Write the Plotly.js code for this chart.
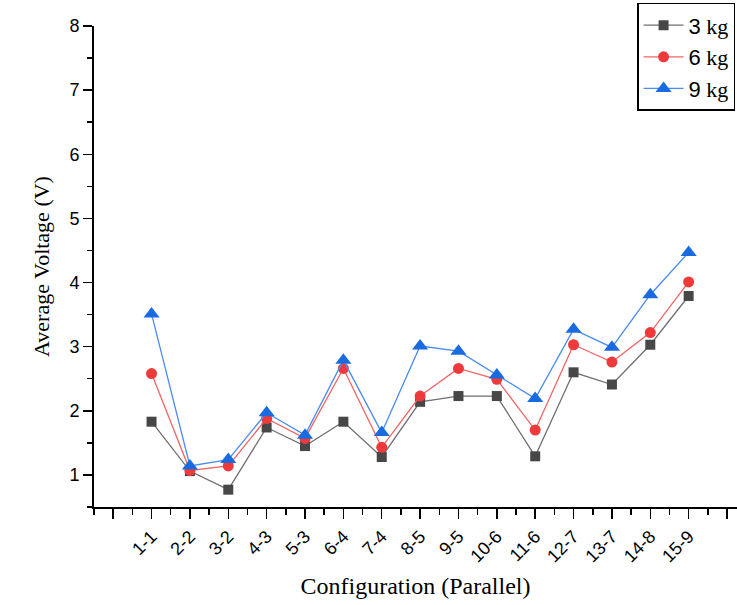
<!DOCTYPE html>
<html>
<head>
<meta charset="utf-8">
<script src="https://cdn.plot.ly/plotly-3.0.1.min.js"></script>
<style>html,body{margin:0;padding:0;background:#fff;}#chart{width:737px;height:605px;}</style>
</head>
<body>
<div id="chart"></div>
<script>
// Data
const configs = ["1-1","2-2","3-2","4-3","5-3","6-4","7-4","8-5","9-5","10-6","11-6","12-7","13-7","14-8","15-9"];
const positions = [1,2,3,4,5,6,7,8,9,10,11,12,13,14,15];
const v3kg = [1.83,1.06,0.77,1.74,1.45,1.83,1.28,2.14,2.23,2.23,1.29,2.60,2.41,3.03,3.79];
const v6kg = [2.58,1.07,1.14,1.88,1.57,2.66,1.43,2.23,2.66,2.49,1.70,3.03,2.76,3.22,4.01];
const v9kg = [3.51,1.14,1.24,1.97,1.62,2.79,1.66,3.01,2.93,2.56,2.19,3.27,2.99,3.81,4.47];
const seriesNames = ['<span style="font-family:Liberation Sans">3</span> kg',
                     '<span style="font-family:Liberation Sans">6</span> kg',
                     '<span style="font-family:Liberation Sans">9</span> kg'];
const yTickVals = [1,2,3,4,5,6,7,8];

const traces = [
  {x: positions, y: v3kg, name: seriesNames[0], mode: 'lines+markers', type: 'scatter',
   line: {color: '#6f6f6f', width: 1.3},
   marker: {symbol: 'square', size: 10, color: '#474747'}},
  {x: positions, y: v6kg, name: seriesNames[1], mode: 'lines+markers', type: 'scatter',
   line: {color: '#f26464', width: 1.3},
   marker: {symbol: 'circle', size: 11, color: '#ee3a3a'}},
  {x: positions, y: v9kg, name: seriesNames[2], mode: 'lines+markers', type: 'scatter',
   line: {color: '#4a8cf0', width: 1.3},
   marker: {symbol: 'triangle-up', size: 14, color: '#1a6be0'}}
];

const xTickVals = [0].concat(positions, [16]);
const xTickText = [''].concat(configs, ['']);

const layout = {
  width: 737, height: 605,
  margin: {l: 94, r: 0, t: 26, b: 98},
  paper_bgcolor: '#ffffff', plot_bgcolor: '#ffffff',
  showlegend: true,
  legend: {
    x: 0.997, xanchor: 'right', y: 1.048, yanchor: 'top',
    bgcolor: '#ffffff', bordercolor: '#000000', borderwidth: 1.5,
    font: {family: 'Liberation Serif', size: 22, color: '#000'},
    traceorder: 'normal', itemwidth: 40,
    tracegroupgap: 0
  },
  xaxis: {
    range: [-0.5, 16.26],
    tickmode: 'array', tickvals: xTickVals, ticktext: xTickText,
    tickangle: -45,
    ticks: 'outside', ticklen: 10, tickwidth: 1.5, tickcolor: '#000',
    minor: {tickmode: 'linear', tick0: 0, dtick: 0.5, ticks: 'outside', ticklen: 6, tickwidth: 1.5, tickcolor: '#000'},
    showline: true, linecolor: '#000', linewidth: 2,
    showgrid: false, zeroline: false,
    tickfont: {family: 'Liberation Sans', size: 18, color: '#000'},
    title: {text: 'Configuration (Parallel)', font: {family: 'Liberation Serif', size: 24, color: '#000'}, standoff: 12}
  },
  yaxis: {
    range: [0.5, 8],
    tickmode: 'array', tickvals: yTickVals,
    ticks: 'outside', ticklen: 9, tickwidth: 1.5, tickcolor: '#000',
    minor: {tickmode: 'linear', tick0: 0.5, dtick: 0.5, ticks: 'outside', ticklen: 5, tickwidth: 1.5, tickcolor: '#000'},
    showline: true, linecolor: '#000', linewidth: 2,
    showgrid: false, zeroline: false,
    tickfont: {family: 'Liberation Sans', size: 18, color: '#000'},
    title: {text: 'Average Voltage (V)', font: {family: 'Liberation Serif', size: 22, color: '#000'}, standoff: 14}
  }
};

Plotly.newPlot('chart', traces, layout, {staticPlot: true, displayModeBar: false});
</script>
</body>
</html>
